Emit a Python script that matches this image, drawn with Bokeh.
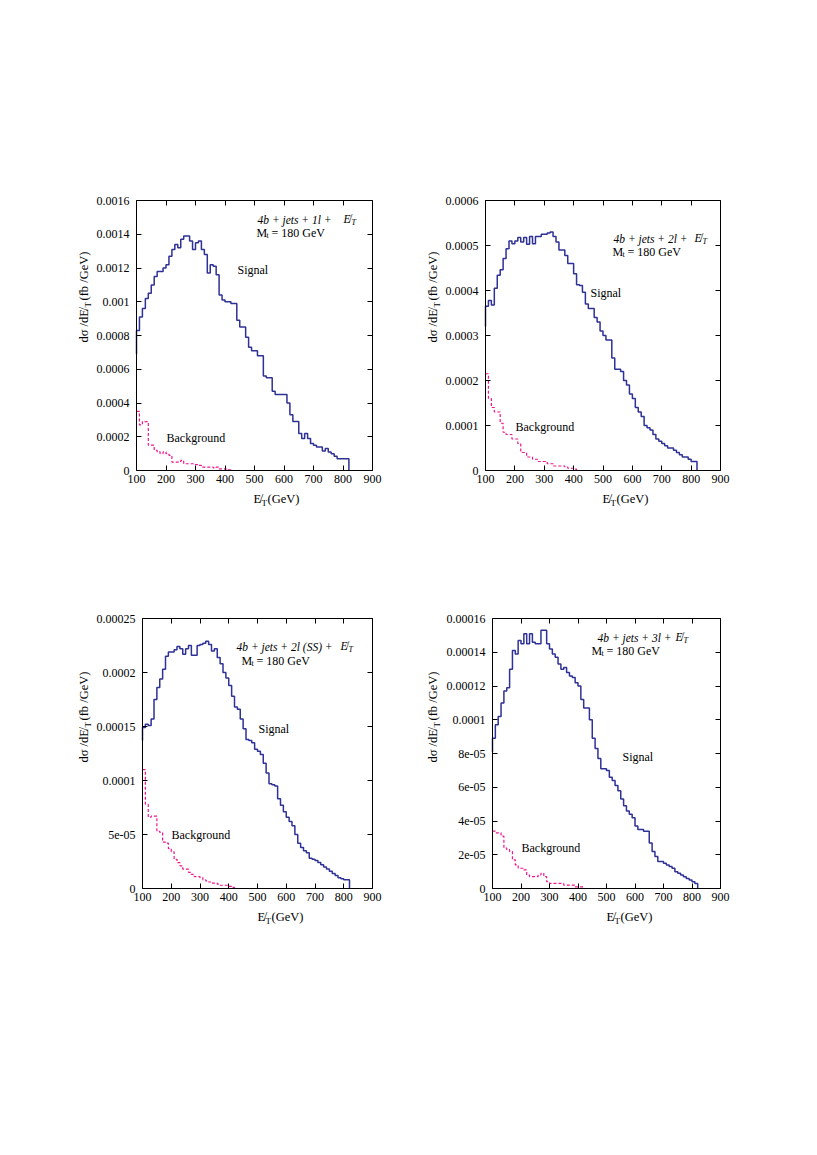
import numpy as np
from bokeh.plotting import figure
from bokeh.models import (LinearAxis, FixedTicker, Label, Spacer, Range1d,
                          CustomJSTickFormatter)
from bokeh.layouts import column, row
from bokeh.embed import file_html
from bokeh.resources import INLINE

# ---------------- data ----------------
BIN_START = 100   # GeV, lower edge of first bin
BIN_WIDTH = 10    # GeV
X_MIN, X_MAX = 100, 900

X_TICKS = [100, 200, 300, 400, 500, 600, 700, 800, 900]

# 4b + jets + 1l + MET
sig_1l_start = 0.00069
sig_1l = [0.00083, 0.00091, 0.00096, 0.00102, 0.00105, 0.00110, 0.00115, 0.00118, 0.00118, 0.00120,
          0.00122, 0.00127, 0.00131, 0.00134, 0.00132, 0.00137, 0.00139, 0.00139, 0.00136, 0.00131,
          0.00135, 0.00136, 0.00131, 0.00128, 0.00117, 0.00122, 0.00121, 0.00116, 0.00104, 0.00101,
          0.00100, 0.00100, 0.00099, 0.00099, 0.00089, 0.00085, 0.00085, 0.00079, 0.00073, 0.00071,
          0.00071, 0.00068, 0.00068, 0.00056, 0.00055, 0.00055, 0.00047, 0.00045, 0.00045, 0.00045,
          0.00045, 0.00040, 0.00033, 0.00029, 0.00029, 0.00022, 0.00019, 0.00022, 0.00019, 0.00016,
          0.00015, 0.00014, 0.00014, 0.000115, 0.00013, 0.00011, 0.00010, 0.000085, 0.00007, 0.00007,
          0.00007, 0.00007]
bkg_1l = [0.00035, 0.00027, 0.00029, 0.00029, 0.00015, 0.00015, 0.00012, 0.00011, 0.00010, 0.00011,
          0.00010, 0.00009, 0.00005, 0.00005, 0.00005, 0.00006, 0.00004, 0.00004, 0.00004, 0.00004,
          0.000035, 0.00003, 0.00002, 0.00002, 0.00002, 0.00002, 0.000015, 0.00002, 0.00001, 0.00001,
          0.000008, 0.000004]
yticks_1l = [0, 0.0002, 0.0004, 0.0006, 0.0008, 0.001, 0.0012, 0.0014, 0.0016]
ylabels_1l = ["0", "0.0002", "0.0004", "0.0006", "0.0008", "0.001", "0.0012", "0.0014", "0.0016"]

# 4b + jets + 2l + MET
sig_2l_start = 0.00032
sig_2l = [0.000365, 0.000378, 0.000368, 0.000405, 0.000434, 0.000446, 0.000471, 0.000493, 0.00051, 0.000504,
          0.00051, 0.000518, 0.000508, 0.000518, 0.000503, 0.00052, 0.000504, 0.00052, 0.00052, 0.000525,
          0.000525, 0.000528, 0.00053, 0.00052, 0.000508, 0.00049, 0.00049, 0.000478, 0.00046, 0.00046,
          0.000437, 0.000413, 0.000411, 0.000396, 0.00037, 0.00036, 0.00036, 0.00034, 0.00033, 0.00031,
          0.00030, 0.00029, 0.00029, 0.00025, 0.000225, 0.000225, 0.00022, 0.00020, 0.00019, 0.00017,
          0.00016, 0.00014, 0.00013, 0.00012, 0.00010, 0.000095, 0.00009, 0.00008, 0.00007, 0.000065,
          0.00006, 0.000055, 0.00005, 0.00005, 0.000045, 0.00004, 0.000035, 0.00003, 0.00003, 0.000025,
          0.00002, 0.00002]
bkg_2l = [0.000215, 0.00016, 0.00014, 0.00013, 0.00013, 0.000105, 0.000085, 0.00008, 0.00008, 0.00007,
          0.00007, 0.00006, 0.00004, 0.00004, 0.00003, 0.00003, 0.000025, 0.000025, 0.00002, 0.00002,
          0.00002, 0.000015, 0.000015, 0.00001, 0.00001, 0.00001, 0.00001, 0.000008, 0.000005, 0.000005,
          0.000003]
yticks_2l = [0, 0.0001, 0.0002, 0.0003, 0.0004, 0.0005, 0.0006]
ylabels_2l = ["0", "0.0001", "0.0002", "0.0003", "0.0004", "0.0005", "0.0006"]

# 4b + jets + 2l (SS) + MET
sig_2lss_start = 0.000137
sig_2lss = [0.000149, 0.000152, 0.000151, 0.000157, 0.000175, 0.000186, 0.000194, 0.000203, 0.000215, 0.000219,
            0.000219, 0.000221, 0.000224, 0.000222, 0.000217, 0.000222, 0.000225, 0.000216, 0.000216, 0.000225,
            0.000226, 0.000227, 0.000229, 0.000226, 0.00022, 0.000222, 0.000214, 0.000208, 0.0002, 0.000195,
            0.000188, 0.000178, 0.000168, 0.000166, 0.000157, 0.000148, 0.000138, 0.000137, 0.000135, 0.000129,
            0.000127, 0.000124, 0.000116, 0.000107, 0.000097, 0.000096, 0.000095, 0.000083, 0.000077, 0.000071,
            0.000066, 0.000062, 0.000058, 0.00005, 0.000042, 0.000038, 0.000035, 0.000033, 0.000028, 0.000027,
            0.000026, 0.000024, 0.000022, 0.00002, 0.000018, 0.000016, 0.000014, 0.000012, 0.00001, 0.000009,
            0.000008, 0.000008]
bkg_2lss = [0.00011, 0.000078, 0.000066, 0.000067, 0.000067, 0.000053, 0.000052, 0.000043, 0.000042, 0.000037,
            0.000034, 0.000027, 0.000024, 0.000021, 0.000018, 0.000018, 0.000015, 0.000013, 0.000011, 0.000011,
            0.00001, 0.000008, 0.000007, 0.000006, 0.000005, 0.000005, 0.000004, 0.000003, 0.000003, 0.000003,
            0.000002, 0.000001]
yticks_2lss = [0, 0.00005, 0.0001, 0.00015, 0.0002, 0.00025]
ylabels_2lss = ["0", "5e-05", "0.0001", "0.00015", "0.0002", "0.00025"]

# 4b + jets + 3l + MET
sig_3l_start = 0.000081
sig_3l = [0.000089, 0.000097, 0.000102, 0.00011, 0.000117, 0.000119, 0.00013, 0.000141, 0.000139, 0.000147,
          0.000145, 0.000151, 0.000145, 0.000151, 0.000146, 0.000145, 0.000145, 0.000153, 0.000153, 0.000145,
          0.000142, 0.000139, 0.000137, 0.000133, 0.00013, 0.000131, 0.000128, 0.000126, 0.000125, 0.000122,
          0.00012, 0.000112, 0.000107, 0.000107, 0.0001, 0.000089, 0.000083, 0.000077, 0.000071, 0.000071,
          0.00007, 0.000066, 0.000064, 0.000061, 0.000058, 0.000053, 0.000049, 0.000046, 0.000044, 0.000042,
          0.000037, 0.000035, 0.000035, 0.000034, 0.000034, 0.000027, 0.000022, 0.000019, 0.000016, 0.000016,
          0.000015, 0.000014, 0.000013, 0.000012, 0.00001, 0.000009, 0.000008, 0.000007, 0.000006, 0.000005,
          0.000004, 0.000003]
bkg_3l = [0.000034, 0.000033, 0.000033, 0.000031, 0.000024, 0.000023, 0.000022, 0.000017, 0.000014, 0.000012,
          0.000012, 0.000011, 0.000008, 0.000007, 0.000007, 0.000007, 0.000008, 0.000009, 0.000007, 0.000004,
          0.000003, 0.000003, 0.000003, 0.000003, 0.000003, 0.000002, 0.000002, 0.000002, 0.000002, 0.000001,
          0.000001, 0.000001]
yticks_3l = [0, 0.00002, 0.00004, 0.00006, 0.00008, 0.0001, 0.00012, 0.00014, 0.00016]
ylabels_3l = ["0", "2e-05", "4e-05", "6e-05", "8e-05", "0.0001", "0.00012", "0.00014", "0.00016"]

channel_titles = ["4b + jets + 1l +", "4b + jets + 2l +", "4b + jets + 2l (SS) +", "4b + jets + 3l +"]

# ---------------- style ----------------
FONT = "Liberation Serif"
SIG_COLOR = "#2e3196"
BKG_COLOR = "#f0168e"
MET = "E\u0338"


def hist_xy(values, start=None):
    n = len(values)
    edges = BIN_START + BIN_WIDTH * np.arange(n + 1)
    y = np.append(np.asarray(values, dtype=float), 0.0)
    if start is not None:
        edges = np.insert(edges, 0, edges[0])
        y = np.insert(y, 0, start)
    return edges, y


def tick_formatter(tvals, tlabels):
    return CustomJSTickFormatter(
        args=dict(tv=tvals, tl=tlabels),
        code="""
        for (let i = 0; i < tv.length; i++) {
            if (Math.abs(tv[i] - tick) < 1e-12) { return tl[i]; }
        }
        return '';
        """)


def blank():
    return CustomJSTickFormatter(code="return '';")


def style_axis(ax, ticks, bounds, loc, labelled):
    ax.ticker = FixedTicker(ticks=ticks)
    ax.bounds = bounds
    ax.fixed_location = loc
    ax.major_tick_in = 5
    ax.major_tick_out = 0
    ax.minor_tick_line_color = None
    ax.axis_line_color = "black"
    ax.axis_line_width = 1
    ax.major_tick_line_color = "black"
    ax.major_label_text_font = FONT
    ax.major_label_text_font_size = "12px"
    ax.major_label_text_color = "black"
    if not labelled:
        ax.formatter = blank()


def make_panel(sig, sig_start, bkg, yticks, ylabels, box, fig):
    """box: plot box (L, T, R, B) in page px; fig: figure area (x0, y0, x1, y1) in page px."""
    L, T, R, B = box
    fx0, fy0, fx1, fy1 = fig
    ymax = yticks[-1]
    sx = (X_MAX - X_MIN) / (R - L)
    sy = ymax / (B - T)
    xr = Range1d(X_MIN - (L - fx0) * sx, X_MAX + (fx1 - R) * sx)
    yr = Range1d(0 - (fy1 - B) * sy, ymax + (T - fy0) * sy)
    p = figure(width=fx1 - fx0, height=fy1 - fy0, x_range=xr, y_range=yr,
               output_backend="svg", toolbar_location=None, title=None,
               min_border=0, min_border_left=0, min_border_right=0,
               min_border_top=0, min_border_bottom=0)
    p.xgrid.visible = False
    p.ygrid.visible = False
    p.outline_line_color = None
    p.background_fill_color = "white"
    p.border_fill_color = "white"

    style_axis(p.xaxis[0], X_TICKS, (X_MIN, X_MAX), 0, True)
    p.xaxis[0].major_label_standoff = 4
    style_axis(p.yaxis[0], yticks, (0, ymax), X_MIN, True)
    p.yaxis[0].formatter = tick_formatter(yticks, ylabels)
    p.yaxis[0].major_label_standoff = 7

    top = LinearAxis()
    style_axis(top, X_TICKS, (X_MIN, X_MAX), ymax, False)
    right = LinearAxis()
    style_axis(right, yticks, (0, ymax), X_MAX, False)
    p.add_layout(top, "above")
    p.add_layout(right, "right")

    xb, yb = hist_xy(bkg)
    p.step(xb, yb, mode="after", line_color=BKG_COLOR, line_width=1.2, line_dash="3 2")
    xs, ys = hist_xy(sig, sig_start)
    p.step(xs, ys, mode="after", line_color=SIG_COLOR, line_width=1.5)
    return p


def put(p, box, ymax, px, py, text, size="12px", style="normal", angle=0.0,
        align="left", baseline="middle"):
    L, T, R, B = box
    x = X_MIN + (px - L) / (R - L) * (X_MAX - X_MIN)
    y = (B - py) / (B - T) * ymax
    p.add_layout(Label(x=x, y=y, text=text, text_font=FONT, text_font_size=size,
                       text_font_style=style, angle=angle, text_align=align,
                       text_baseline=baseline, text_color="black"))


def decorate(p, box, ymax, title, t_xy, e_x, m_xy, sig_xy, bkg_xy, xl_x, yl_x, yl_bottom):
    # channel title
    put(p, box, ymax, t_xy[0], t_xy[1], title, size="11.5px", style="italic")
    put(p, box, ymax, e_x, t_xy[1] - 1, MET, size="11.5px", style="italic")
    put(p, box, ymax, e_x + 8, t_xy[1] + 3, "T", size="8px", style="italic")
    # top mass
    put(p, box, ymax, m_xy[0], m_xy[1], "M", size="12px")
    put(p, box, ymax, m_xy[0] + 10, m_xy[1] + 3, "t", size="8px")
    put(p, box, ymax, m_xy[0] + 15, m_xy[1], "= 180 GeV", size="12px")
    # curve labels
    put(p, box, ymax, sig_xy[0], sig_xy[1], "Signal", size="12px")
    put(p, box, ymax, bkg_xy[0], bkg_xy[1], "Background", size="12px")
    # x axis title
    xl_y = box[3] + 28
    put(p, box, ymax, xl_x, xl_y, MET, size="12.5px")
    put(p, box, ymax, xl_x + 8, xl_y + 4, "T", size="9px")
    put(p, box, ymax, xl_x + 14, xl_y, "(GeV)", size="12.5px")
    # y axis title (rotated)
    a = np.pi / 2
    put(p, box, ymax, yl_x, yl_bottom, "d\u03c3 /d" + MET, size="12.5px", angle=a)
    put(p, box, ymax, yl_x + 4, yl_bottom - 35, "T", size="9px", angle=a)
    put(p, box, ymax, yl_x, yl_bottom - 42, "(fb /GeV)", size="12.5px", angle=a)


# plot boxes in page pixels: (left, top, right, bottom)
G1 = (136, 200, 372, 470)
G2 = (485, 200, 720, 470)
G3 = (142, 618, 372, 888)
G4 = (492, 618, 720, 888)
# figure areas in page pixels: (x0, y0, x1, y1)
F1 = (0, 150, 412, 530)
F2 = (412, 150, 780, 530)
F3 = (0, 570, 412, 950)
F4 = (412, 570, 780, 950)

p1 = make_panel(sig_1l, sig_1l_start, bkg_1l, yticks_1l, ylabels_1l, G1, F1)
p2 = make_panel(sig_2l, sig_2l_start, bkg_2l, yticks_2l, ylabels_2l, G2, F2)
p3 = make_panel(sig_2lss, sig_2lss_start, bkg_2lss, yticks_2lss, ylabels_2lss, G3, F3)
p4 = make_panel(sig_3l, sig_3l_start, bkg_3l, yticks_3l, ylabels_3l, G4, F4)

decorate(p1, G1, yticks_1l[-1], channel_titles[0], (257, 219), 343, (256, 232),
         (237, 269), (166, 437), 253, 83, 342)
decorate(p2, G2, yticks_2l[-1], channel_titles[1], (613, 238), 694, (612, 251),
         (590, 292), (515, 426), 602, 432, 342)
decorate(p3, G3, yticks_2lss[-1], channel_titles[2], (236, 646), 340, (241, 660),
         (258, 728), (171, 834), 257, 83, 762)
decorate(p4, G4, yticks_3l[-1], channel_titles[3], (597, 637), 675, (591, 650),
         (622, 756), (521, 847), 606, 432, 762)

layout = column(Spacer(height=F1[1]),
                row(p1, p2),
                Spacer(height=F3[1] - F1[3]),
                row(p3, p4))

open("out.html", "w").write(file_html(layout, INLINE))
